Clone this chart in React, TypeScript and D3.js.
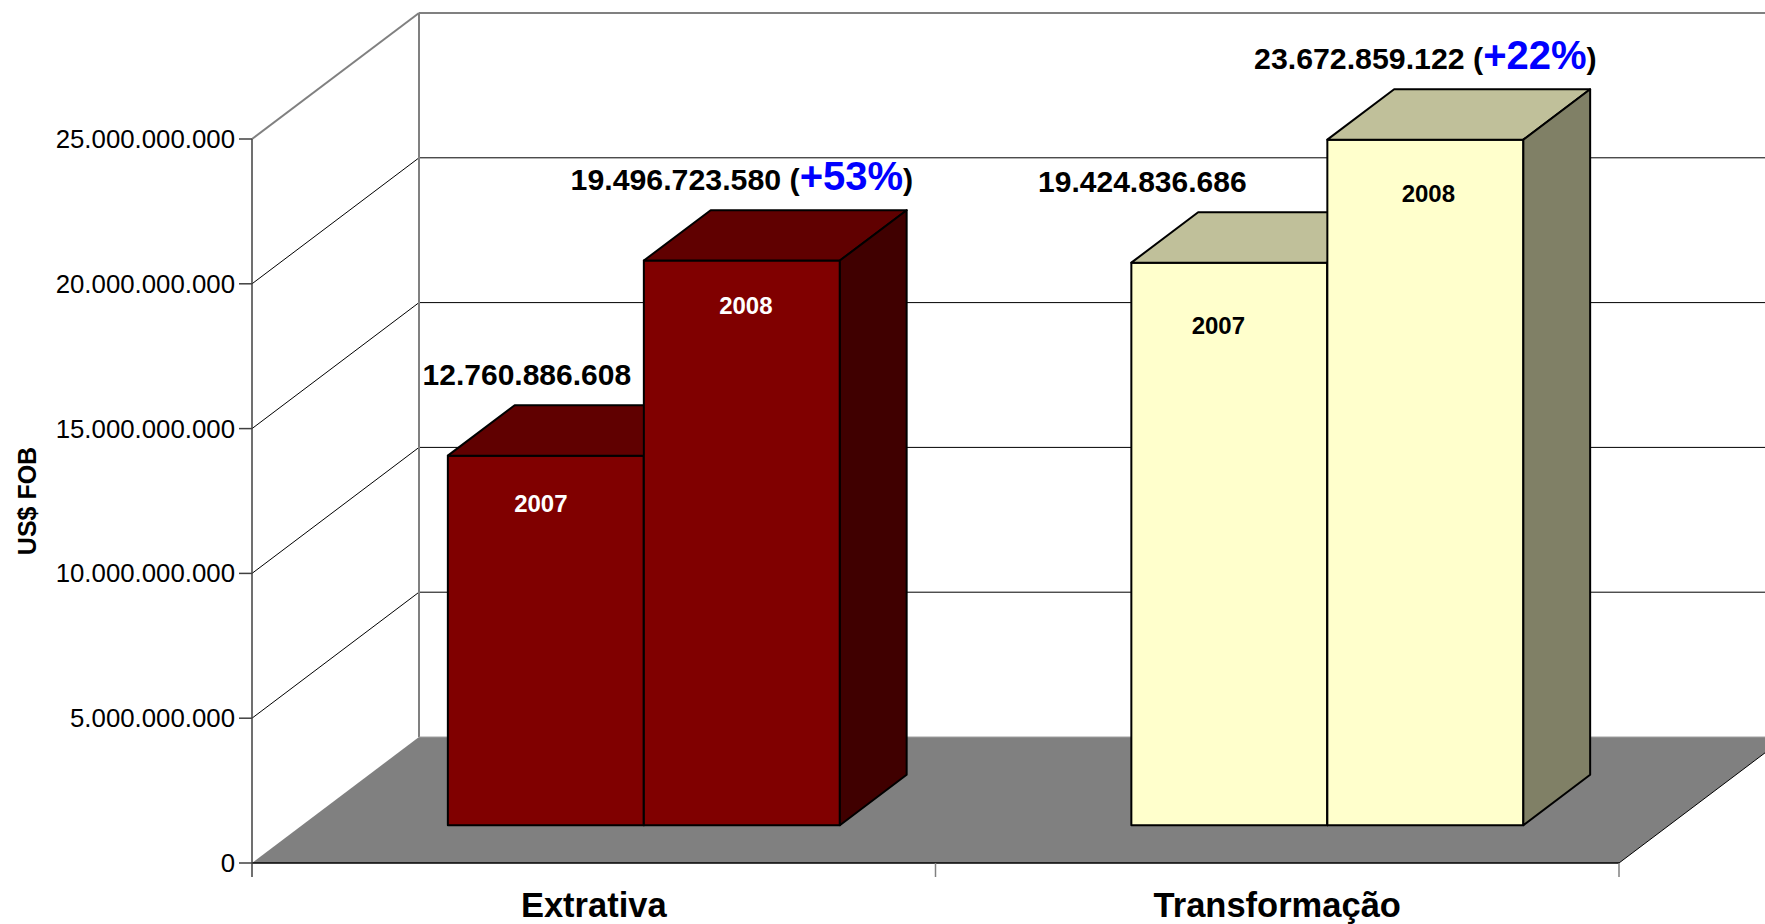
import React from "react";
import * as d3 from "d3";

const categories = ["Extrativa", "Transformação"];
const years = ["2007", "2008"];
const values2007 = [12760886608, 19424836686];
const values2008 = [19496723580, 23672859122];
const valueLabels2007 = ["12.760.886.608", "19.424.836.686"];
const valueLabels2008 = ["19.496.723.580", "23.672.859.122"];
const growthLabels = ["+53%", "+22%"];
const yTicks = [0, 5e9, 10e9, 15e9, 20e9, 25e9];
const yTickLabels = ["0", "5.000.000.000", "10.000.000.000", "15.000.000.000", "20.000.000.000", "25.000.000.000"];
const yTitle = "US$ FOB";

// layout / styling
const W = 1765, H = 924;
const X0 = 252, X1 = 1619;
const DX = 167, DY = -126; // full depth offset
const F0 = 0.3, F1 = 0.7; // bar front / back depth fractions
const FONT = "'Liberation Sans', Arial, sans-serif";
const frontColors = ["#800000", "#FFFFCC"];
const topColors = ["#600000", "#C0C09A"];
const sideColors = ["#400000", "#808066"];
const insideTextColors = ["#FFFFFF", "#000000"];
const label2007Shift = [-19, -87];
const insideShift = [
  [[-5, 56], [4, 53]],
  [[-11, 71], [3, 62]],
];

export default function App() {
  const y = d3.scaleLinear().domain([0, 25e9]).range([863, 139]);
  const xCat = d3.scaleBand<string>().domain(categories).range([X0, X1]).padding(0);
  const bw = 196;
  const proj = (x: number, v: number, f: number): [number, number] => [x + f * DX, y(v) + f * DY];
  const pts = (arr: [number, number][]) => arr.map((p) => p.join(",")).join(" ");

  const floor: [number, number][] = [
    [X0, y(0)],
    [X1, y(0)],
    [X1 + DX, y(0) + DY],
    [X0 + DX, y(0) + DY],
  ];

  const bars: React.ReactNode[] = [];
  const labels: React.ReactNode[] = [];
  categories.forEach((c, ci) => {
    const center = (xCat(c) as number) + xCat.bandwidth() / 2;
    const xs = d3.scaleBand<string>().domain(years).range([center - bw, center + bw]).padding(0);
    const vals = [values2007[ci], values2008[ci]];
    years.forEach((yr, si) => {
      const xl = xs(yr) as number;
      const xr = xl + xs.bandwidth();
      const v = vals[si];
      const fl = proj(xl, v, F0), fr = proj(xr, v, F0);
      const bl = proj(xl, 0, F0), br = proj(xr, 0, F0);
      const tl = proj(xl, v, F1), tr = proj(xr, v, F1);
      const sbr = proj(xr, 0, F1);
      const sw = { stroke: "#000", strokeWidth: 2, strokeLinejoin: "round" as const };
      bars.push(
        <g key={`${c}-${yr}`}>
          <polygon points={pts([fl, fr, br, bl])} fill={frontColors[ci]} {...sw} />
          <polygon points={pts([fl, tl, tr, fr])} fill={topColors[ci]} {...sw} />
          <polygon points={pts([fr, tr, sbr, br])} fill={sideColors[ci]} {...sw} />
        </g>
      );
      const fc = (fl[0] + fr[0]) / 2;
      const [idx, idy] = insideShift[ci][si];
      labels.push(
        <text key={`in-${c}-${yr}`} x={fc + idx} y={fl[1] + idy} textAnchor="middle"
          fontFamily={FONT} fontWeight="bold" fontSize={24} fill={insideTextColors[ci]}>{yr}</text>
      );
      const ly = tl[1] - 20;
      if (si === 0) {
        labels.push(
          <text key={`v-${c}-${yr}`} x={fc + label2007Shift[ci]} y={ly} textAnchor="middle"
            fontFamily={FONT} fontWeight="bold" fontSize={30} fill="#000">{valueLabels2007[ci]}</text>
        );
      } else {
        labels.push(
          <text key={`v-${c}-${yr}`} x={fc} y={ly} textAnchor="middle"
            fontFamily={FONT} fontWeight="bold" fontSize={30.3} fill="#000">
            <tspan>{valueLabels2008[ci] + " ("}</tspan>
            <tspan fill="#0000FF" fontSize={40}>{growthLabels[ci]}</tspan>
            <tspan>)</tspan>
          </text>
        );
      }
    });
  });

  const backX = X0 + DX;
  return (
    <svg width={W} height={H} style={{ position: "absolute", left: 0, top: 0, background: "#fff" }}>
      {/* gridlines on side & back walls */}
      {yTicks.filter((t) => t > 0 && t < 25e9).map((t) => (
        <g key={`g${t}`}>
          <line x1={X0} y1={y(t)} x2={backX} y2={y(t) + DY} stroke="#000" strokeWidth={1} />
          <line x1={backX} y1={y(t) + DY} x2={W} y2={y(t) + DY} stroke="#000" strokeWidth={1} />
        </g>
      ))}
      {/* wall edges */}
      <line x1={X0} y1={y(25e9)} x2={backX} y2={y(25e9) + DY} stroke="#808080" strokeWidth={2} />
      <line x1={backX} y1={y(25e9) + DY} x2={W} y2={y(25e9) + DY} stroke="#808080" strokeWidth={2} />
      <line x1={backX} y1={y(25e9) + DY} x2={backX} y2={y(0) + DY} stroke="#808080" strokeWidth={2} />
      {/* floor */}
      <polygon points={pts(floor)} fill="#808080" />
      <line x1={backX} y1={y(0) + DY} x2={W} y2={y(0) + DY} stroke="#a0a0a0" strokeWidth={1} />
      <line x1={X1} y1={y(0)} x2={X1 + DX} y2={y(0) + DY} stroke="#000" strokeWidth={1} />
      <line x1={X0} y1={y(0)} x2={X1} y2={y(0)} stroke="#000" strokeWidth={1.5} />
      {/* front value axis */}
      <line x1={X0} y1={y(25e9)} x2={X0} y2={y(0) + 14} stroke="#404040" strokeWidth={1.5} />
      {yTicks.map((t, i) => (
        <g key={`t${t}`}>
          <line x1={X0 - 13} y1={y(t)} x2={X0} y2={y(t)} stroke="#404040" strokeWidth={1.5} />
          <text x={X0 - 17} y={y(t) + 9} textAnchor="end" fontFamily={FONT} fontSize={25.8} fill="#000">
            {yTickLabels[i]}
          </text>
        </g>
      ))}
      {/* category ticks */}
      {[...categories.map((c) => xCat(c) as number), X1].slice(1).map((x) => (
        <line key={`ct${x}`} x1={x} y1={y(0)} x2={x} y2={y(0) + 14} stroke="#808080" strokeWidth={1.5} />
      ))}
      {categories.map((c) => (
        <text key={`cl${c}`} x={(xCat(c) as number) + xCat.bandwidth() / 2} y={917} textAnchor="middle"
          fontFamily={FONT} fontWeight="bold" fontSize={34.5} fill="#000">{c}</text>
      ))}
      <text transform="translate(36,501) rotate(-90)" textAnchor="middle" fontFamily={FONT}
        fontWeight="bold" fontSize={25} fill="#000">{yTitle}</text>
      {bars}
      {labels}
    </svg>
  );
}
